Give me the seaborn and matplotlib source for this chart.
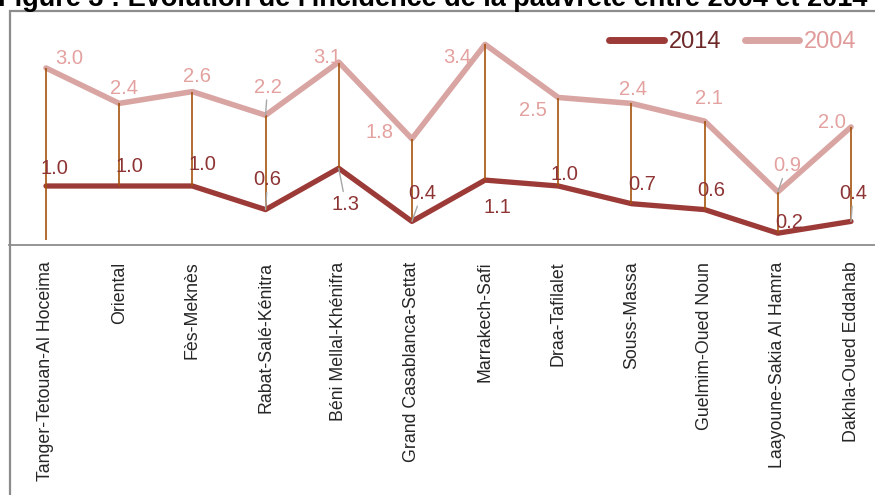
import matplotlib
matplotlib.use("Agg")
import matplotlib.pyplot as plt
import seaborn as sns
import pandas as pd
import numpy as np
from matplotlib.patches import Rectangle

regions = ["Tanger-Tetouan-Al Hoceima", "Oriental", "Fès-Meknès", "Rabat-Salé-Kénitra",
           "Béni Mellal-Khénifra", "Grand Casablanca-Settat", "Marrakech-Safi",
           "Draa-Tafilalet", "Souss-Massa", "Guelmim-Oued Noun",
           "Laayoune-Sakia Al Hamra", "Dakhla-Oued Eddahab"]
v2014 = [1.0, 1.0, 1.0, 0.6, 1.3, 0.4, 1.1, 1.0, 0.7, 0.6, 0.2, 0.4]
v2004 = [3.0, 2.4, 2.6, 2.2, 3.1, 1.8, 3.4, 2.5, 2.4, 2.1, 0.9, 2.0]
title = "Figure 3 : Evolution de l'incidence de la pauvreté entre 2004 et 2014"

# label placement (pixel offsets from the point), Excel-like
off2004 = [(23, 10), (5, 15), (5, 15), (2, 28), (-12, 5), (-32, 6),
           (-28, -13), (-25, -13), (2, 14), (4, 23), (9, 26), (-19, 5)]
off2014 = [(8, 17), (10, 19), (10, 22), (2, 30), (7, -36), (10, 28),
           (12, -27), (6, 11), (11, 19), (7, 19), (11, 11), (2, 28)]
leader2004 = [3, 10]
leader2014 = [3, 4, 5, 11]

C14 = "#9C3A37"
C04 = "#D9A5A3"
T14 = "#8E3434"
T04 = "#E3A19F"
DROP = "#A5530C"
GRAY = "#8C8C8C"

sns.set_style("white")
plt.rcParams["font.family"] = ["Liberation Sans", "DejaVu Sans"]

df = pd.DataFrame({"x": np.arange(len(regions)), "y2014": v2014, "y2004": v2004})

fig = plt.figure(figsize=(8.75, 4.95), dpi=100)
ax = fig.add_axes([9.4 / 875, 1 - 245 / 495, 878.2 / 875, 206.5 / 495])

sns.lineplot(data=df, x="x", y="y2004", ax=ax, color=C04, lw=4.0, label="2004",
             solid_capstyle="round", solid_joinstyle="round", zorder=3)
sns.lineplot(data=df, x="x", y="y2014", ax=ax, color=C14, lw=3.8, label="2014",
             solid_capstyle="round", solid_joinstyle="round", zorder=3)

# high-low lines
ax.vlines(df["x"], df["y2014"], df["y2004"], color=DROP, lw=1.2, zorder=4)
ax.vlines(df["x"].iloc[0], 0.08, df["y2014"].iloc[0], color=DROP, lw=1.2, zorder=4)

for i in range(len(regions)):
    ap = dict(arrowstyle="-", color="#A6A6A6", lw=1.0, shrinkA=0, shrinkB=0) if i in leader2004 else None
    ax.annotate(f"{v2004[i]:.1f}", xy=(i, v2004[i]), xytext=off2004[i],
                textcoords="offset pixels", ha="center", va="center",
                fontsize=14.5, color=T04, zorder=5, arrowprops=ap)
    ap = dict(arrowstyle="-", color="#A6A6A6", lw=1.0, shrinkA=0, shrinkB=0) if i in leader2014 else None
    ax.annotate(f"{v2014[i]:.1f}", xy=(i, v2014[i]), xytext=off2014[i],
                textcoords="offset pixels", ha="center", va="center",
                fontsize=14.5, color=T14, zorder=5, arrowprops=ap)

ax.set_xlim(-0.5, len(regions) - 0.5)
ax.set_ylim(0, 3.5)
ax.set_xticks(df["x"])
ax.set_xticklabels(regions, rotation=90, fontsize=12.8, va="top", ha="center")
ax.set_yticks([])
ax.set_xlabel("")
ax.set_ylabel("")
ax.tick_params(axis="x", length=0, pad=12)
for s in ["top", "right", "left"]:
    ax.spines[s].set_visible(False)
ax.spines["bottom"].set_color(GRAY)
ax.spines["bottom"].set_linewidth(1.3)
ax.patch.set_alpha(0)

# legend
handles, labels = ax.get_legend_handles_labels()
order = [labels.index("2014"), labels.index("2004")]
leg = ax.legend([handles[k] for k in order], [labels[k] for k in order],
                loc="upper left", bbox_to_anchor=(600 / 878.2 - 9.4 / 878.2, 1 + 17 / 206.5),
                ncol=2, frameon=False, fontsize=17, handlelength=2.3,
                handletextpad=0.2, columnspacing=1.0, borderaxespad=0)
for line in leg.get_lines():
    line.set_linewidth(5)
    line.set_solid_capstyle("round")
leg.get_texts()[0].set_color("#6E2828")
leg.get_texts()[1].set_color("#E09C9A")

# chart border
fig.add_artist(Rectangle((9.7 / 875, -0.2), 1.5, 1.2 - 10.8 / 495, transform=fig.transFigure,
                         fill=False, ec=GRAY, lw=1.6, zorder=0))

fig.text(-2 / 875, 1 - 6 / 495, title, fontsize=19.5, fontweight="bold",
         ha="left", va="baseline", color="black")

fig.savefig("out.png", dpi=100)
